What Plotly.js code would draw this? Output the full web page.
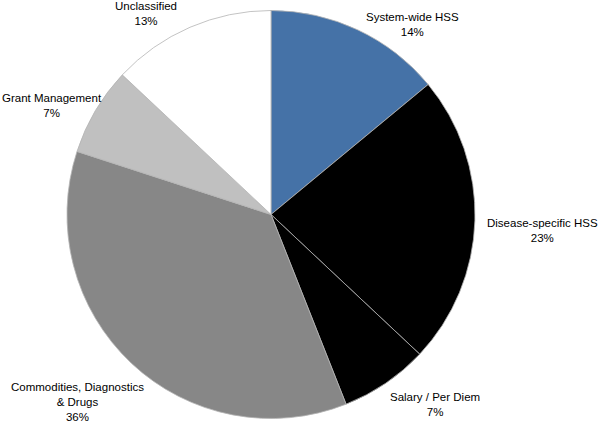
<!DOCTYPE html>
<html>
<head>
<meta charset="utf-8">
<script src="https://cdn.plot.ly/plotly-3.0.1.min.js"></script>
<style>
  html, body { margin: 0; padding: 0; background: #fff; }
  #chart { width: 600px; height: 423px; }
</style>
</head>
<body>
<div id="chart"></div>
<script>
// slice data, clockwise from 12 o'clock
const categories = ["System-wide HSS", "Disease-specific HSS", "Salary / Per Diem",
                    "Commodities, Diagnostics & Drugs", "Grant Management", "Unclassified"];
const shares = [14, 23, 7, 36, 7, 13];
const labelText = ["System-wide HSS", "Disease-specific HSS", "Salary / Per Diem",
                   "Commodities, Diagnostics<br>& Drugs", "Grant Management", "Unclassified"];
const sliceColors = ["#4572a7", "#000000", "#000000", "#878787", "#c0c0c0", "#ffffff"];

// label centres in pixels (layout only)
const labelPos = [[412, 25], [542, 230], [435, 404], [77, 402], [52, 105], [146, 13]];

const W = 600, H = 423;
const cx = 271, cy = 214.5, r = 204;

const annotations = categories.map((c, i) => ({
    xref: "paper", yref: "paper",
    x: labelPos[i][0] / W, y: 1 - labelPos[i][1] / H,
    xanchor: "center", yanchor: "middle",
    text: labelText[i] + "<br>" + shares[i] + "%",
    showarrow: false,
    align: "center",
    font: { family: "Liberation Sans, Arial, sans-serif", size: 11.5, color: "#000" }
}));

Plotly.newPlot("chart", [{
    type: "pie",
    labels: categories,
    values: shares,
    sort: false,
    direction: "clockwise",
    rotation: 0,
    textinfo: "none",
    hoverinfo: "label+percent",
    marker: { colors: sliceColors, line: { color: "#b4b4b4", width: 0.8 } },
    domain: { x: [(cx - r) / W, (cx + r) / W], y: [(H - cy - r) / H, (H - cy + r) / H] }
}], {
    width: W, height: H,
    margin: { l: 0, r: 0, t: 0, b: 0 },
    showlegend: false,
    paper_bgcolor: "#fff",
    annotations: annotations
}, { displayModeBar: false, staticPlot: true });
</script>
</body>
</html>
